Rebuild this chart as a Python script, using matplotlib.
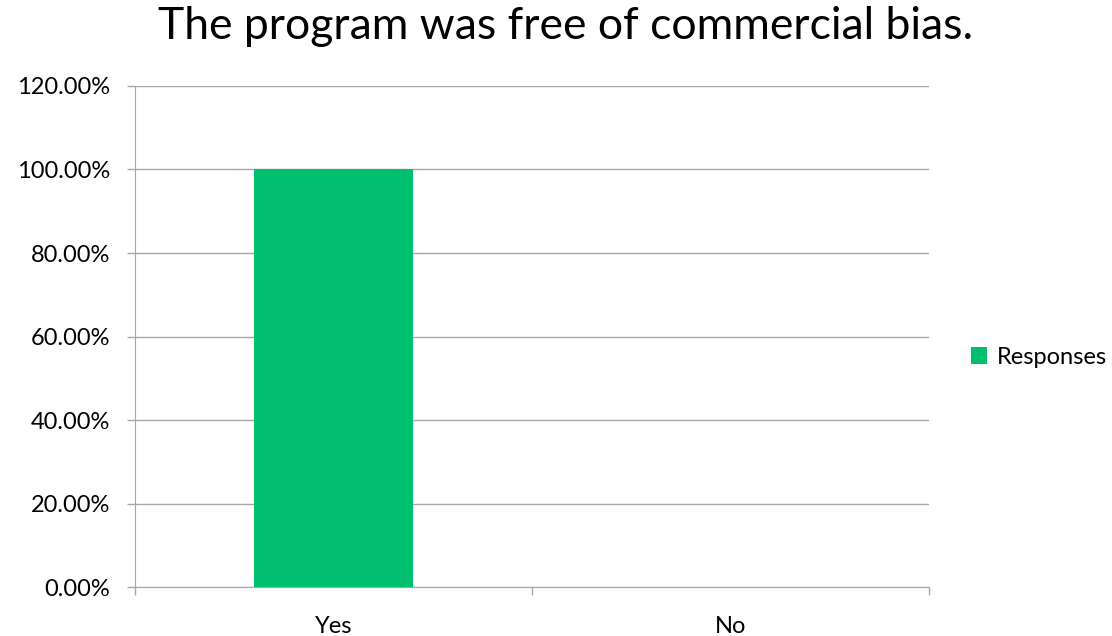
import matplotlib
matplotlib.use("Agg")
import matplotlib.pyplot as plt
from matplotlib.ticker import FuncFormatter
from matplotlib.patches import Patch

plt.rcParams["font.family"] = ["Lato", "DejaVu Sans"]

# data
categories = ["Yes", "No"]
responses = [1.0, 0.0]
title = "The program was free of commercial bias."
series_name = "Responses"

bar_color = "#00BF6F"
grid_color = "#A6A6A6"

fig = plt.figure(figsize=(11.12, 6.36), dpi=100)
ax = fig.add_axes([0.1214, 0.0770, 0.8354 - 0.1214, 0.8648 - 0.0770])

x = range(len(categories))
ax.bar(x, responses, width=0.4, color=bar_color, zorder=3)

ax.set_xlim(-0.5, len(categories) - 0.5)
ax.set_ylim(0, 1.2)
ax.set_yticks([i * 0.2 for i in range(7)])
ax.yaxis.set_major_formatter(FuncFormatter(lambda v, p: f"{v * 100:.2f}%"))
ax.yaxis.grid(True, color=grid_color, linewidth=1.0, zorder=0)

# category labels centred, tick marks on the boundaries
ax.set_xticks([i - 0.5 for i in range(len(categories) + 1)])
ax.set_xticklabels([])
ax.set_xticks(list(x), minor=True)
ax.set_xticklabels(categories, minor=True)
ax.tick_params(axis="x", which="major", length=6, color=grid_color, width=1)
ax.tick_params(axis="x", which="minor", length=0, pad=21, labelsize=17)
ax.tick_params(axis="y", length=6, color=grid_color, width=1, labelsize=17, pad=12)

for s in ["top", "right"]:
    ax.spines[s].set_visible(False)
for s in ["left", "bottom"]:
    ax.spines[s].set_color(grid_color)

fig.text(0.509, 0.9387, title, ha="center", va="baseline", fontsize=32)

handle = Patch(facecolor=bar_color, label=series_name)
fig.legend(handles=[handle], loc="center left", bbox_to_anchor=(0.873, 0.438),
           frameon=False, fontsize=17, handlelength=0.7, handleheight=0.7,
           handletextpad=0.4, borderaxespad=0, borderpad=0)

fig.savefig("out.png", dpi=100)
